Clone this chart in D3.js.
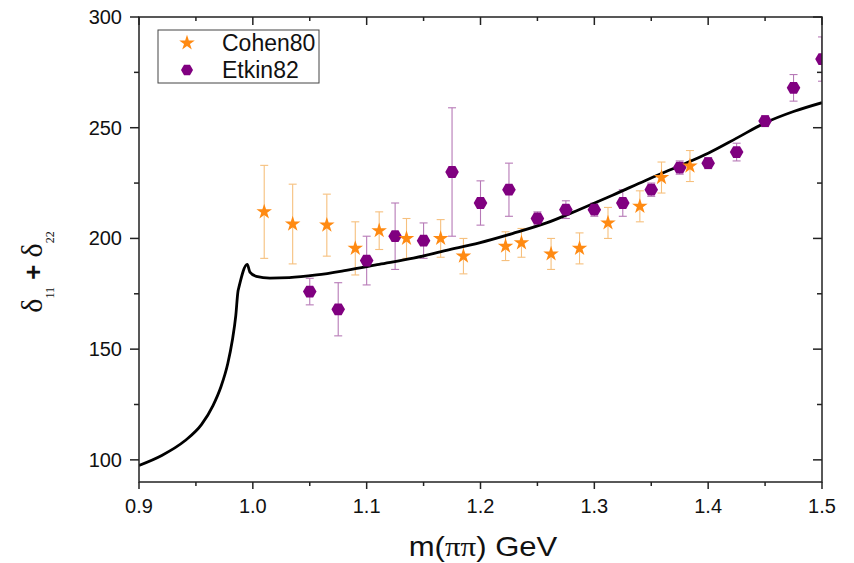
<!DOCTYPE html>
<html>
<head>
<meta charset="utf-8">
<script src="https://cdn.jsdelivr.net/npm/d3@7"></script>
<style>
  html, body { margin: 0; padding: 0; background: #fff; }
  svg { display: block; }
  text { font-family: "Liberation Sans", Arial, sans-serif; fill: #111; }
</style>
</head>
<body>
<svg id="chart" width="854" height="563"></svg>
<script>
// Cohen80 measurements: mass (GeV), phase sum (deg), error
const cohenMass  = [1.010, 1.035, 1.065, 1.090, 1.111, 1.135, 1.165, 1.185, 1.222, 1.236, 1.262, 1.287, 1.312, 1.340, 1.359, 1.384];
const cohenPhase = [212.0, 206.5, 206.0, 195.5, 203.5, 200.0, 200.0, 192.0, 196.5, 198.0, 193.0, 195.5, 207.0, 214.5, 227.5, 232.7];
const cohenErr   = [21, 18, 14, 12, 8.5, 9, 8.5, 8, 6.5, 6.5, 7, 7, 7, 7, 7, 7];

// Etkin82 measurements
const etkinMass  = [1.050, 1.075, 1.100, 1.125, 1.150, 1.175, 1.200, 1.225, 1.250, 1.275, 1.300, 1.325, 1.350, 1.375, 1.400, 1.425, 1.450, 1.475, 1.500];
const etkinPhase = [176, 168, 190, 201, 199, 230, 216, 222, 209, 213, 213, 216, 222, 232, 234, 239, 253, 268, 281];
const etkinErr   = [6, 12, 11, 15, 8, 29, 10, 12, 3, 4, 3, 6, 3, 3, 2.5, 4, 2.5, 6, 10];

// Model curve
const curveMass  = [0.900, 0.920, 0.940, 0.955, 0.965, 0.972, 0.978, 0.982, 0.985, 0.9870, 0.9876, 0.9951, 0.9974, 1.003, 1.015, 1.032, 1.056, 1.082, 1.111, 1.141, 1.170, 1.199, 1.228, 1.258, 1.287, 1.316, 1.345, 1.375, 1.400, 1.425, 1.450, 1.475, 1.500];
const curvePhase = [97.5, 102.0, 108.5, 116.0, 124.5, 133.0, 143.5, 154.0, 165.0, 176.3, 177.6, 188.3, 184.8, 182.9, 182.1, 182.3, 183.5, 185.6, 188.3, 191.1, 194.6, 198.0, 202.2, 207.0, 213.1, 219.5, 226.2, 232.8, 238.5, 245.3, 252.2, 257.3, 261.3];

// Axis ticks
const xMajor = [0.9, 1.0, 1.1, 1.2, 1.3, 1.4, 1.5];
const xMinor = [0.95, 1.05, 1.15, 1.25, 1.35, 1.45];
const yMajor = [100, 150, 200, 250, 300];
const yMinor = [125, 175, 225, 275];

const seriesNames = ["Cohen80", "Etkin82"];
const orange = "#ff8a12", orangeBar = "#f6c07e";
const purple = "#800080", purpleBar = "#b77ab7";

const svg = d3.select("#chart");
const L = 139, R = 822, T = 17, B = 482;
const x = d3.scaleLinear().domain([0.9, 1.5]).range([L, R]);
const y = d3.scaleLinear().domain([90, 300]).range([B, T]);

svg.append("defs").append("clipPath").attr("id", "plotClip")
  .append("rect").attr("x", L).attr("y", T).attr("width", R - L).attr("height", B - T);

const plot = svg.append("g").attr("clip-path", "url(#plotClip)");

// Error bars
function errorBars(mass, phase, err, color) {
  const g = plot.append("g").attr("stroke", color).attr("stroke-width", 1.1).attr("fill", "none");
  mass.forEach((m, i) => {
    const cx = x(m), y1 = y(phase[i] + err[i]), y2 = y(phase[i] - err[i]);
    g.append("line").attr("x1", cx).attr("x2", cx).attr("y1", y1).attr("y2", y2);
    g.append("line").attr("x1", cx - 4).attr("x2", cx + 4).attr("y1", y1).attr("y2", y1);
    g.append("line").attr("x1", cx - 4).attr("x2", cx + 4).attr("y1", y2).attr("y2", y2);
  });
}
errorBars(cohenMass, cohenPhase, cohenErr, orangeBar);
errorBars(etkinMass, etkinPhase, etkinErr, purpleBar);

// Model curve
const line = d3.line().x(d => x(d)).y((d, i) => y(curvePhase[i])).curve(d3.curveMonotoneX);
plot.append("path").attr("d", line(curveMass))
  .attr("fill", "none").attr("stroke", "#000").attr("stroke-width", 2.8).attr("stroke-linejoin", "round");

// Marker shapes
const starPath = d3.symbol().type(d3.symbolStar).size(75)();
function hexPath(r) {
  const pts = d3.range(6).map(k => [r * Math.cos(k * Math.PI / 3), r * Math.sin(k * Math.PI / 3)]);
  return "M" + pts.map(p => p.join(",")).join("L") + "Z";
}
const hex = hexPath(6.8);

plot.append("g").selectAll("path").data(etkinMass).join("path")
  .attr("d", hex).attr("fill", purple)
  .attr("transform", (d, i) => `translate(${x(d)},${y(etkinPhase[i])})`);
plot.append("g").selectAll("path").data(cohenMass).join("path")
  .attr("d", starPath).attr("fill", orange)
  .attr("transform", (d, i) => `translate(${x(d)},${y(cohenPhase[i])})`);

// Frame and ticks
const axisColor = "#222";
svg.append("rect").attr("x", L).attr("y", T).attr("width", R - L).attr("height", B - T)
  .attr("fill", "none").attr("stroke", axisColor).attr("stroke-width", 1.5);

const ticks = svg.append("g").attr("stroke", axisColor).attr("stroke-width", 1.5);
xMajor.forEach(v => {
  ticks.append("line").attr("x1", x(v)).attr("x2", x(v)).attr("y1", B).attr("y2", B + 7);
  ticks.append("line").attr("x1", x(v)).attr("x2", x(v)).attr("y1", T).attr("y2", T + 8);
});
xMinor.forEach(v => {
  ticks.append("line").attr("x1", x(v)).attr("x2", x(v)).attr("y1", B).attr("y2", B + 4);
  ticks.append("line").attr("x1", x(v)).attr("x2", x(v)).attr("y1", T).attr("y2", T + 4);
});
yMajor.forEach(v => {
  ticks.append("line").attr("x1", L - 9).attr("x2", L).attr("y1", y(v)).attr("y2", y(v));
  ticks.append("line").attr("x1", R - 9).attr("x2", R).attr("y1", y(v)).attr("y2", y(v));
});
yMinor.forEach(v => {
  ticks.append("line").attr("x1", L - 5).attr("x2", L).attr("y1", y(v)).attr("y2", y(v));
  ticks.append("line").attr("x1", R - 5).attr("x2", R).attr("y1", y(v)).attr("y2", y(v));
});

// Tick labels
svg.append("g").selectAll("text").data(xMajor).join("text")
  .attr("x", d => x(d)).attr("y", 513).attr("text-anchor", "middle")
  .attr("font-size", 20).text(d => d.toFixed(1));
svg.append("g").selectAll("text").data(yMajor).join("text")
  .attr("x", 122).attr("y", d => y(d) + 7).attr("text-anchor", "end")
  .attr("font-size", 20).text(d => d);

// Axis titles
const serif = "Liberation Serif, Times New Roman, serif";
const xt = svg.append("text").attr("transform", "translate(483,556) scale(1.15,1)")
  .attr("text-anchor", "middle").attr("font-size", 27);
xt.append("tspan").text("m(");
xt.append("tspan").attr("font-family", serif).text("ππ");
xt.append("tspan").text(") GeV");

const yt = svg.append("text").attr("transform", "translate(42,272) rotate(-90)")
  .attr("text-anchor", "middle").attr("font-size", 30);
yt.append("tspan").attr("font-family", serif).text("δ");
yt.append("tspan").attr("font-family", serif).attr("font-size", 12).attr("dy", 12).text("11");
yt.append("tspan").attr("font-weight", "bold").attr("font-size", 26).attr("dy", -12).text(" + ");
yt.append("tspan").attr("font-family", serif).text("δ");
yt.append("tspan").attr("font-family", serif).attr("font-size", 12).attr("dy", 12).text("22");

// Legend
const lg = svg.append("g");
lg.append("rect").attr("x", 158).attr("y", 30).attr("width", 161).attr("height", 53)
  .attr("fill", "#fff").attr("stroke", "#444").attr("stroke-width", 1);
lg.append("path").attr("d", starPath).attr("fill", orange).attr("transform", "translate(187,43)");
lg.append("path").attr("d", hexPath(6)).attr("fill", purple).attr("transform", "translate(187,70)");
lg.append("text").attr("x", 222).attr("y", 51).attr("font-size", 23).text(seriesNames[0]);
lg.append("text").attr("x", 222).attr("y", 78).attr("font-size", 23).text(seriesNames[1]);
</script>
</body>
</html>
